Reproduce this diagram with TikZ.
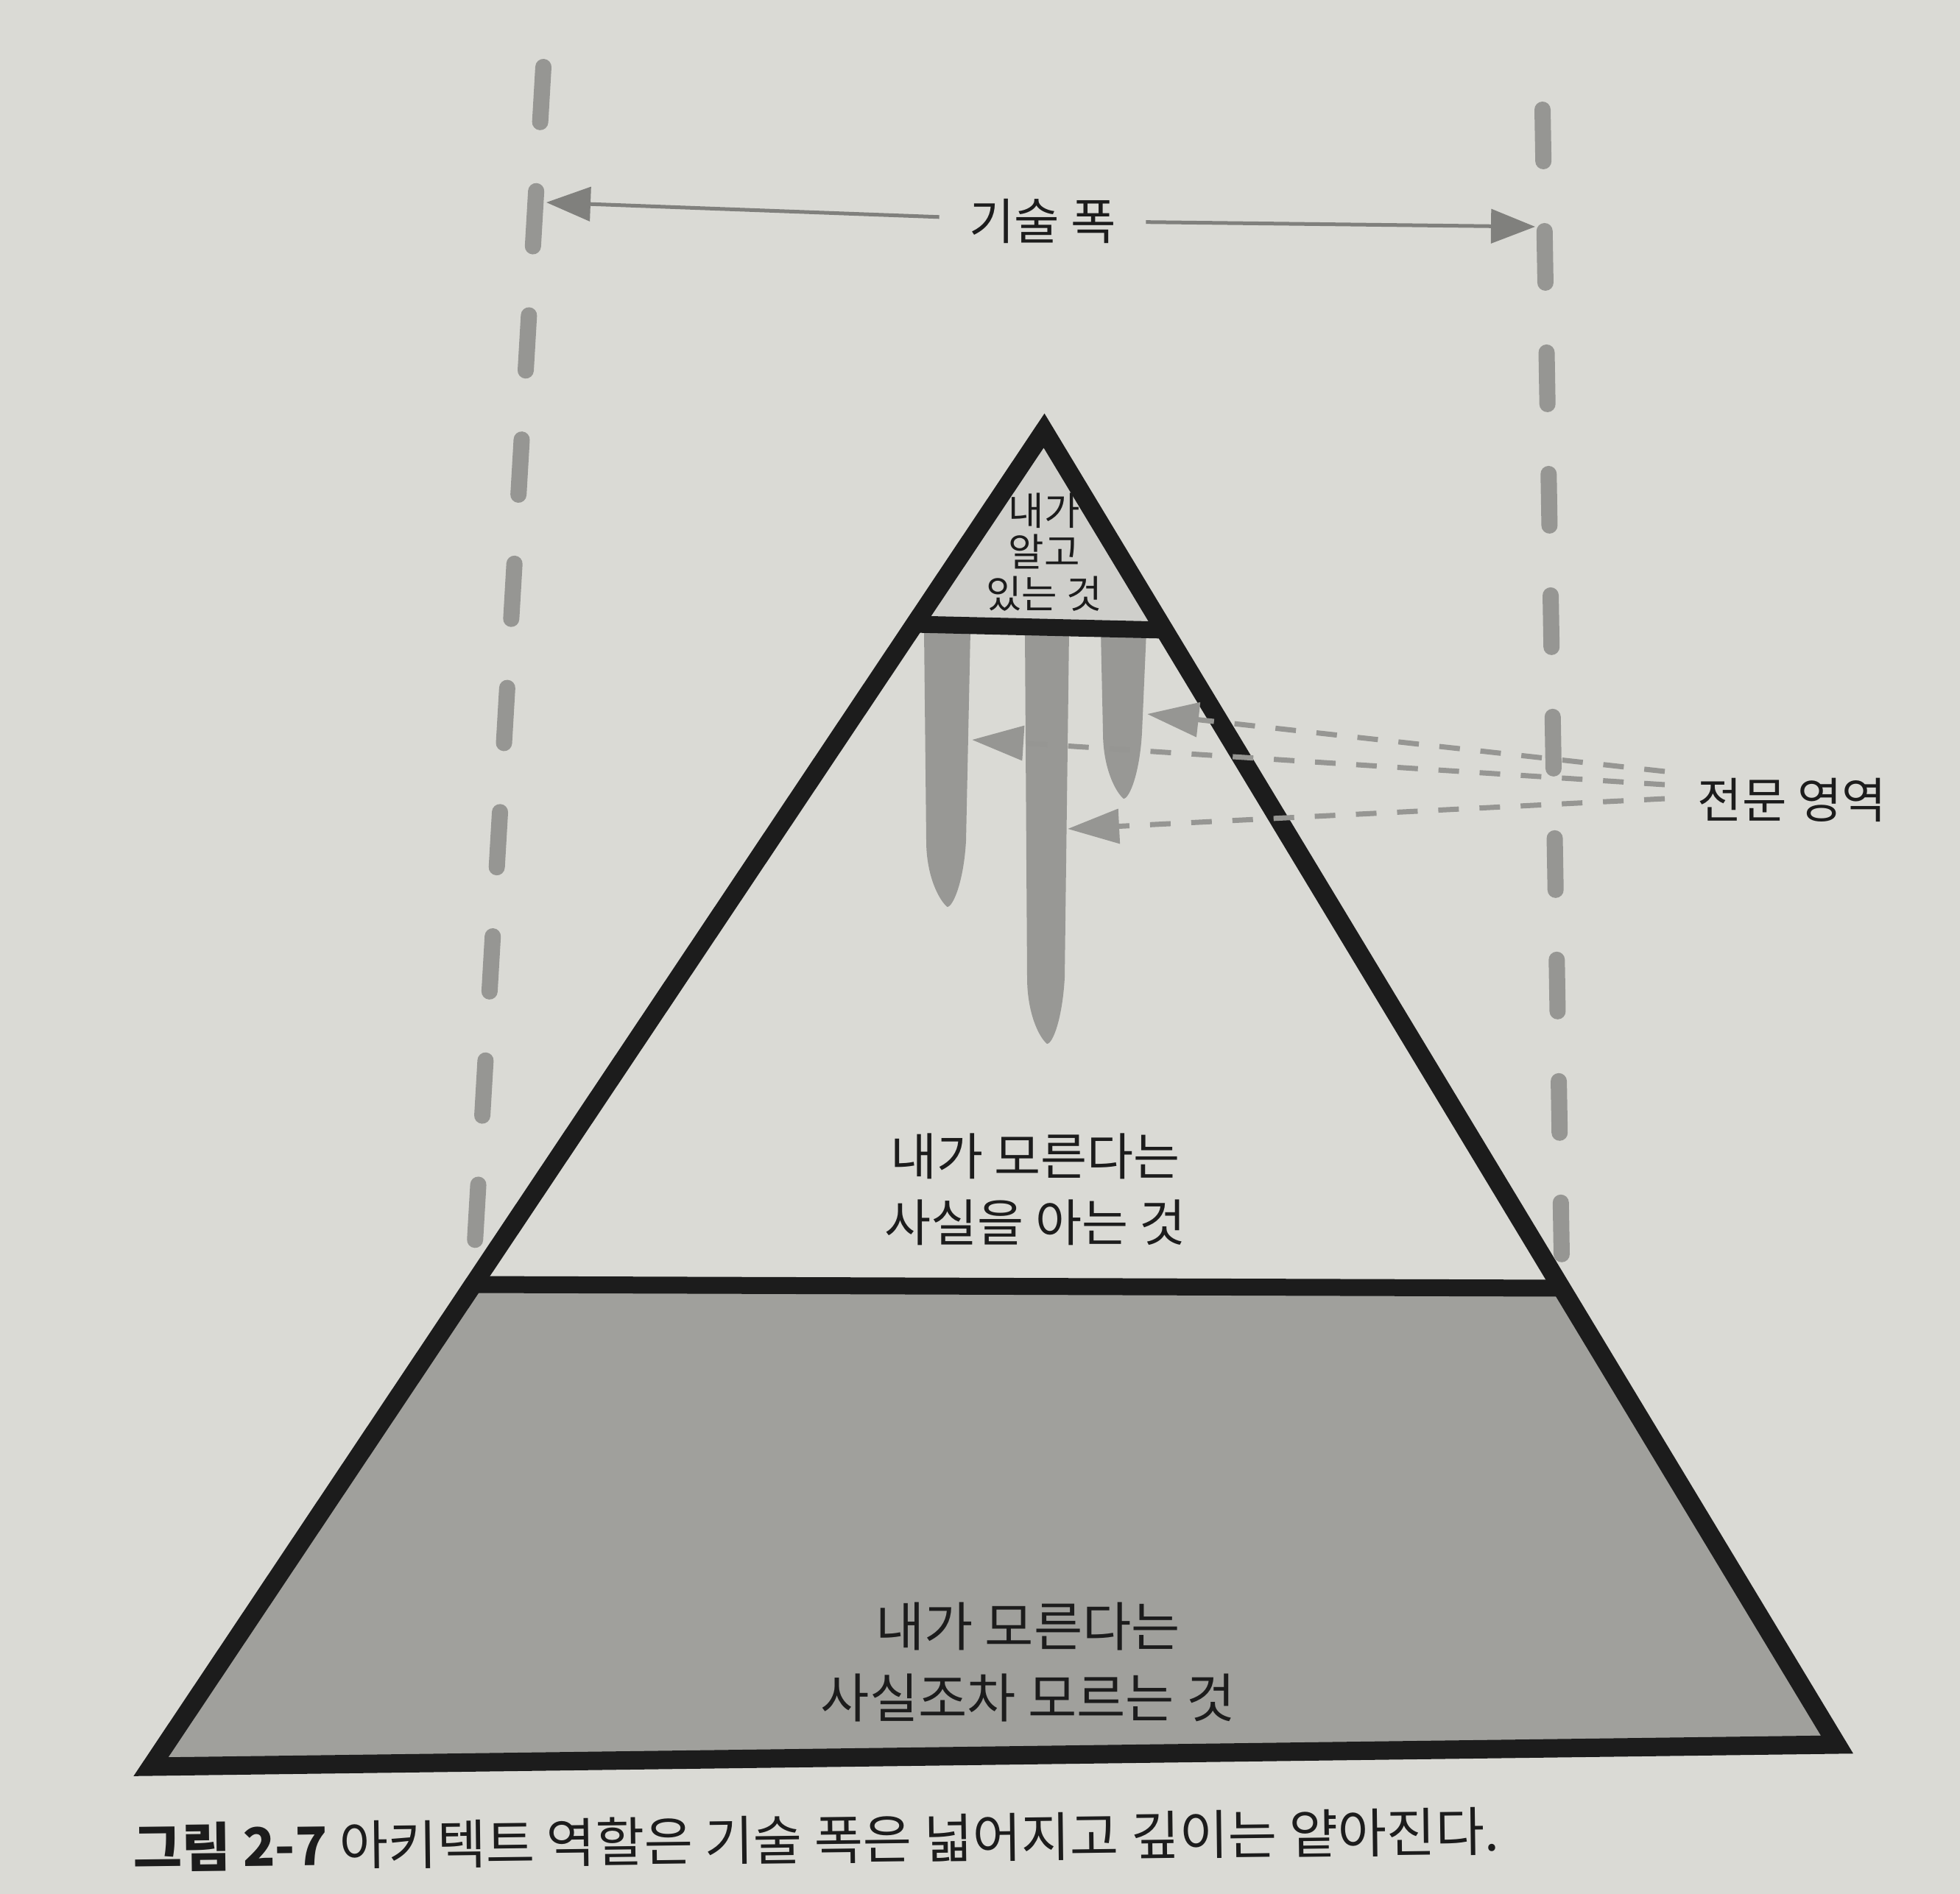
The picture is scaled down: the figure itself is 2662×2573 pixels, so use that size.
\documentclass[tikz,border=0pt]{standalone}
\usepackage{fontspec}
\setmainfont{Noto Sans CJK KR}
\usetikzlibrary{arrows.meta,calc}
\definecolor{paper}{RGB}{218,218,213}
\definecolor{deepfill}{RGB}{160,160,156}
\definecolor{topfill}{RGB}{207,207,203}
\definecolor{bargray}{RGB}{152,152,149}
\definecolor{guidegray}{RGB}{150,150,147}
\definecolor{ink}{RGB}{28,28,28}
\tikzset{
  guide/.style={draw=guidegray, line width=2.2mm, line cap=round},
  dimline/.style={draw=guidegray!85!black, line width=0.5mm, -{Triangle[length=6mm,width=4.6mm]}},
  spec/.style={draw=guidegray, line width=0.7mm, dash pattern=on 2.8mm off 2.8mm, -{Triangle[length=7mm,width=4.6mm]}},
  lbl/.style={align=center, text=ink, font=\fontsize{19.5}{25.6}\selectfont}
}
\begin{document}
\begin{tikzpicture}[x=0.1mm,y=-0.1mm]
\fill[paper] (0,0) rectangle (2662,2573);
\useasboundingbox (0,0) rectangle (2662,2573);
\coordinate (gl0) at (738,91);
\coordinate (gl1) at (645,1688);
\coordinate (gr0) at (2095,149);
\coordinate (gr1) at (2121,1705);
\draw[guide, dash pattern=on 7.5mm off 9.4mm] (gl0) -- (gl1);
\draw[guide, dash pattern=on 7mm off 9.5mm] (gr0) -- (gr1);
\coordinate (apex) at (1418,585);
\coordinate (bl) at (205,2400);
\coordinate (br) at (2495,2370);
\coordinate (tl) at (1242,848);
\coordinate (tr) at (1582,856);
\coordinate (ml) at (643,1745);
\coordinate (mr) at (2121,1750);
\fill[topfill] (apex) -- (tr) -- (tl) -- cycle;
\fill[deepfill] (ml) -- (mr) -- (br) -- (bl) -- cycle;
\foreach \xa/\xb/\yb in {1255/1318/1232,1392/1452/1418,1495/1557/1085}
  \fill[bargray] (\xa,857) -- (\xb,857) -- (\xb-6,\yb-90) .. controls (\xb-9,\yb-35) and ({(\xa+\xb)/2+8},\yb) .. ({(\xa+\xb)/2},\yb) .. controls ({(\xa+\xb)/2-10},\yb-8) and (\xa+3,\yb-40) .. (\xa+3,\yb-90) -- cycle;
\draw[ink, line width=2.5mm, line join=miter] (apex) -- (br) -- (bl) -- cycle;
\draw[ink, line width=2.3mm] (tl) -- (tr);
\draw[ink, line width=2.3mm] (ml) -- (mr);
\node[align=center, text=ink, font=\fontsize{15}{16}\selectfont] (known) at (1418,750) {내가\\알고\\있는 것};
\node[lbl] (aware) at (1406,1616) {내가 모른다는\\사실을 아는 것};
\node[lbl, font=\fontsize{20.5}{27.5}\selectfont] (unaware) at (1396,2258) {내가 모른다는\\사실조차 모르는 것};
\node[text=ink, font=\fontsize{19}{22}\selectfont, inner xsep=4mm] (width) at (1416,300) {기술 폭};
\coordinate (wl) at (742,275);
\coordinate (wr) at (2085,308);
\draw[dimline] (width) -- (wl);
\draw[dimline] (width) -- (wr);
\node[text=ink, anchor=west, inner sep=0pt, font=\fontsize{18.7}{22}\selectfont] (expert) at (2305,1087) {전문 영역};
\coordinate (sp1) at (1558,970);
\coordinate (sp2) at (1320,1005);
\coordinate (sp3) at (1450,1126);
\draw[spec] ($(expert.west)+(-44,-39)$) -- (sp1);
\draw[spec] ($(expert.west)+(-44,-21)$) -- (sp2);
\draw[spec] ($(expert.west)+(-44,-2)$) -- (sp3);
\node[text=ink, anchor=west, inner sep=0pt, rotate=0.7, font=\fontsize{20.5}{24}\selectfont] (caption) at (180,2510) {\textbf{그림 2-7} 아키텍트 역할은 기술 폭은 넓어지고 깊이는 얕아진다.};
\end{tikzpicture}
\end{document}
